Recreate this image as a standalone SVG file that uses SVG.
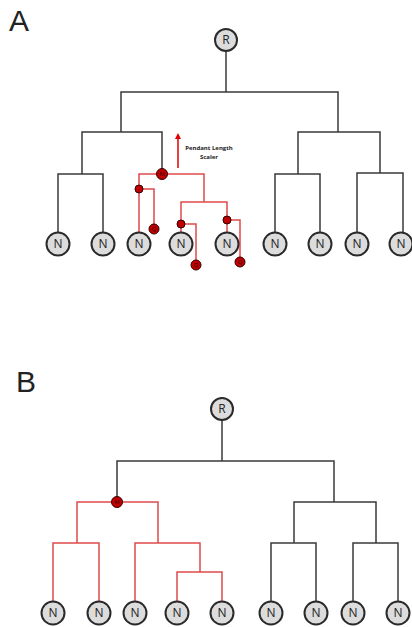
<svg xmlns="http://www.w3.org/2000/svg" width="412" height="627" viewBox="0 0 412 627">
  <style>
    .edge { fill: none; stroke: #3a3a3a; stroke-width: 1.5; }
    .red { fill: none; stroke: #e04a4a; stroke-width: 1.5; }
    .leaf circle, .root circle { fill: #dcdcdc; stroke: #2a2a2a; stroke-width: 2; }
    .leaf text, .root text { font-family: "Open Sans", "Liberation Sans", sans-serif; font-size: 12px; fill: #222; text-anchor: middle; }
    .dot circle { fill: #c00000; stroke: #300; stroke-width: 1; }
    .dot text { font-family: "Liberation Sans", sans-serif; font-size: 6px; fill: #300; text-anchor: middle; }
    .panel { font-family: "Liberation Sans", "Open Sans", sans-serif; font-size: 30px; fill: #222; }
    .note { font-family: "Open Sans", "Liberation Sans", sans-serif; font-size: 6px; font-weight: bold; fill: #222; text-anchor: middle; }
  </style>
  <defs>
    <marker id="arrow" viewBox="0 0 10 10" refX="5" refY="5" markerWidth="4" markerHeight="4" orient="auto">
      <path d="M0,0 L10,5 L0,10 z" fill="#e00000"/>
    </marker>
  </defs>

  <!-- Panel labels -->
  <text class="panel" x="9" y="31">A</text>
  <text class="panel" x="16" y="392">B</text>

  <!-- Panel A connectors -->
  <g id="edges-a">
    <path class="edge" d="M226,51 V92 M121,132 V92 H338 V132"/>
    <path class="edge" d="M82,174 V132 H162 V174"/>
    <path class="edge" d="M58,233 V174 H103 V233"/>
    <path class="edge" d="M298,174 V132 H380 V173"/>
    <path class="edge" d="M275,233 V174 H320 V233"/>
    <path class="edge" d="M357,233 V173 H403 V233"/>
    <!-- pendant subtree -->
    <path class="red" d="M139,233 V174 H204 V202"/>
    <path class="red" d="M139,189 H154 V229"/>
    <path class="red" d="M181,233 V202 H227 V233"/>
    <path class="red" d="M181,224 H196 V265"/>
    <path class="red" d="M227,220 H240 V262"/>
    <!-- scaler arrow -->
    <line x1="178" y1="168" x2="178" y2="136" stroke="#e00000" stroke-width="1.5" marker-end="url(#arrow)"/>
  </g>
  <text class="note" x="209" y="150">Pendant Length</text>
  <text class="note" x="209" y="159">Scaler</text>

  <!-- Panel A nodes -->
  <g id="a-root" class="root"><circle cx="226" cy="40" r="11"/><text x="226" y="44">R</text></g>
  <g id="a-n1" class="leaf"><circle cx="58" cy="244" r="11.5"/><text x="58" y="248">N</text></g>
  <g id="a-n2" class="leaf"><circle cx="103" cy="244" r="11.5"/><text x="103" y="248">N</text></g>
  <g id="a-n3" class="leaf"><circle cx="139" cy="244" r="11.5"/><text x="139" y="248">N</text></g>
  <g id="a-n4" class="leaf"><circle cx="181" cy="244" r="11.5"/><text x="181" y="248">N</text></g>
  <g id="a-n5" class="leaf"><circle cx="227" cy="244" r="11.5"/><text x="227" y="248">N</text></g>
  <g id="a-n6" class="leaf"><circle cx="275" cy="244" r="11.5"/><text x="275" y="248">N</text></g>
  <g id="a-n7" class="leaf"><circle cx="320" cy="244" r="11.5"/><text x="320" y="248">N</text></g>
  <g id="a-n8" class="leaf"><circle cx="357" cy="244" r="11.5"/><text x="357" y="248">N</text></g>
  <g id="a-n9" class="leaf"><circle cx="401" cy="244" r="11.5"/><text x="401" y="248">N</text></g>
  <g id="a-m" class="dot"><circle cx="162" cy="174" r="5.5"/><text x="162" y="176">M</text></g>
  <g id="a-j1" class="dot"><circle cx="139" cy="189" r="4"/></g>
  <g id="a-j2" class="dot"><circle cx="181" cy="224" r="4"/></g>
  <g id="a-j3" class="dot"><circle cx="227" cy="220" r="4"/></g>
  <g id="a-q1" class="dot"><circle cx="154" cy="229" r="5"/><text x="154" y="231">Q</text></g>
  <g id="a-q2" class="dot"><circle cx="196" cy="265" r="5"/><text x="196" y="267">Q</text></g>
  <g id="a-q3" class="dot"><circle cx="240" cy="262" r="5"/><text x="240" y="264">Q</text></g>

  <!-- Panel B connectors -->
  <g id="edges-b">
    <path class="edge" d="M222,420 V461 M117,502 V461 H334 V502"/>
    <path class="edge" d="M294,543 V502 H376 V543"/>
    <path class="edge" d="M271,602 V543 H316 V602"/>
    <path class="edge" d="M353,602 V543 H398 V602"/>
    <path class="red" d="M77,543 V502 H158 V543"/>
    <path class="red" d="M53,602 V543 H99 V602"/>
    <path class="red" d="M135,602 V543 H200 V572"/>
    <path class="red" d="M177,602 V572 H222 V602"/>
  </g>

  <!-- Panel B nodes -->
  <g id="b-root" class="root"><circle cx="222" cy="409" r="11"/><text x="222" y="413">R</text></g>
  <g id="b-m" class="dot"><circle cx="117" cy="502" r="5.5"/><text x="117" y="504">M</text></g>
  <g id="b-n1" class="leaf"><circle cx="53" cy="613" r="11.5"/><text x="53" y="617">N</text></g>
  <g id="b-n2" class="leaf"><circle cx="99" cy="613" r="11.5"/><text x="99" y="617">N</text></g>
  <g id="b-n3" class="leaf"><circle cx="135" cy="613" r="11.5"/><text x="135" y="617">N</text></g>
  <g id="b-n4" class="leaf"><circle cx="177" cy="613" r="11.5"/><text x="177" y="617">N</text></g>
  <g id="b-n5" class="leaf"><circle cx="222" cy="613" r="11.5"/><text x="222" y="617">N</text></g>
  <g id="b-n6" class="leaf"><circle cx="271" cy="613" r="11.5"/><text x="271" y="617">N</text></g>
  <g id="b-n7" class="leaf"><circle cx="316" cy="613" r="11.5"/><text x="316" y="617">N</text></g>
  <g id="b-n8" class="leaf"><circle cx="353" cy="613" r="11.5"/><text x="353" y="617">N</text></g>
  <g id="b-n9" class="leaf"><circle cx="398" cy="613" r="11.5"/><text x="398" y="617">N</text></g>
</svg>
